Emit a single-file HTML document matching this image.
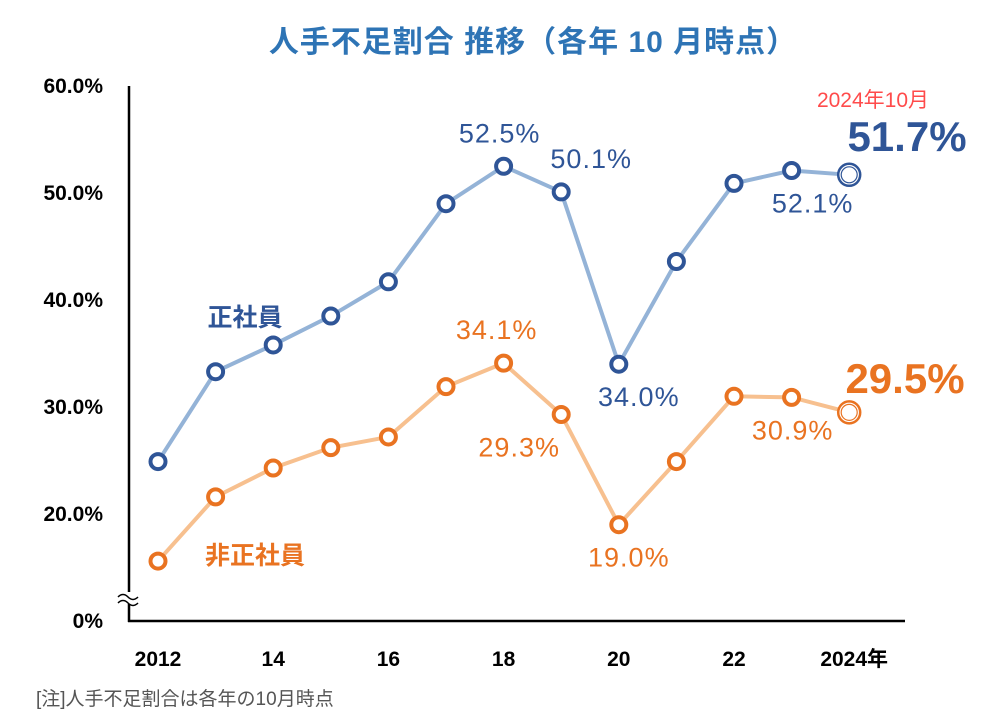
<!DOCTYPE html>
<html><head><meta charset="utf-8"><style>
body{margin:0;background:#fff;}
svg{display:block;font-family:"Liberation Sans","Noto Sans CJK JP",sans-serif;}
</style></head><body>
<svg id="c" width="1005" height="716" viewBox="0 0 1005 716">
<text x="533" y="52" text-anchor="middle" font-size="30" font-weight="bold" fill="#2e74b5" letter-spacing="1">人手不足割合  推移（各年 10 月時点）</text>
<g id="axes">
<line x1="129" y1="86" x2="129" y2="622" stroke="#000" stroke-width="2.5"/>
<line x1="128" y1="621" x2="905" y2="621" stroke="#000" stroke-width="2.5"/>
<rect x="118" y="592" width="22" height="12" fill="#fff"/>
<path d="M118 597 q5 -5 10 0 t10 0 M118 603 q5 -5 10 0 t10 0" stroke="#000" stroke-width="1.5" fill="none"/>
</g>
<g id="yt" font-size="21" font-weight="bold" text-anchor="end"></g>
<g id="xt" font-size="21" font-weight="bold" text-anchor="middle"></g>
<g id="series"></g>
<text x="245" y="326" text-anchor="middle" font-size="25" font-weight="bold" fill="#2f5597">正社員</text>
<text x="255" y="564" text-anchor="middle" font-size="25" font-weight="bold" fill="#e97321">非正社員</text>
<text x="873" y="107" text-anchor="middle" font-size="21" fill="#ff4b4b">2024年10月</text>
<text x="907" y="151" text-anchor="middle" font-size="42" font-weight="bold" fill="#2f5597">51.7%</text>
<text x="905" y="393" text-anchor="middle" font-size="42" font-weight="bold" fill="#e97321">29.5%</text>
<text x="36" y="705" font-size="19" fill="#555">[注]人手不足割合は各年の10月時点</text>
</svg>
<script>
const years=[2012,2013,2014,2015,2016,2017,2018,2019,2020,2021,2022,2023,2024];
const regular=[24.9,33.3,35.8,38.5,41.7,49.0,52.5,50.1,34.0,43.6,50.9,52.1,51.7];
const nonRegular=[15.6,21.6,24.3,26.2,27.2,31.9,34.1,29.3,19.0,24.9,31.0,30.9,29.5];
const yTicks=[20,30,40,50,60];
const yTickLabels=["20.0%","30.0%","40.0%","50.0%","60.0%"];
const xTickYears=[2012,2014,2016,2018,2020,2022,2024];
const xTickLabels=["2012","14","16","18","20","22","2024年"];
const regLabels=[[2018,"52.5%",-1,-4],[2019,"50.1%",-1,30],[2020,"34.0%",1,20],[2023,"52.1%",1,21]];
const nonLabels=[[2018,"34.1%",-1,-7],[2019,"29.3%",1,-42],[2020,"19.0%",1,10],[2023,"30.9%",1,1]];
const NS="http://www.w3.org/2000/svg";
const X=y=>158+(y-2012)*57.6;
const Y=v=>514-(v-20)*10.7;
function mk(t,a,p){const e=document.createElementNS(NS,t);for(const k in a)e.setAttribute(k,a[k]);p.appendChild(e);return e;}
const yt=document.getElementById('yt'),xt=document.getElementById('xt'),sg=document.getElementById('series');
yTicks.forEach((v,i)=>{const t=mk('text',{x:103,y:Y(v)+7},yt);t.textContent=yTickLabels[i];

});
const z=mk('text',{x:103,y:628},yt);z.textContent="0%";


xTickYears.forEach((y,i)=>{const t=mk('text',{x:X(y)+(i==6?5:0),y:666},xt);t.textContent=xTickLabels[i];

});
function series(vals,lineC,dotC,name,labels){
const g=mk('g',{},sg);


const pl=mk('polyline',{points:vals.map((v,i)=>X(years[i])+','+Y(v)).join(' '),fill:'none',stroke:lineC,'stroke-width':4},g);


vals.forEach((v,i)=>{const last=i==vals.length-1;
const c=mk('circle',{cx:X(years[i]),cy:Y(v),r:last?11:7.5,fill:'#fff',stroke:dotC,'stroke-width':last?2.5:4},g);


if(last){const c2=mk('circle',{cx:X(years[i]),cy:Y(v),r:8,fill:'none',stroke:dotC,'stroke-width':1.2},g);

}});
labels.forEach(([yr,txt,d,dx])=>{const v=vals[years.indexOf(yr)];
const t=mk('text',{x:X(yr)+dx,y:Y(v)+(d<0?-24:42),'text-anchor':'middle','font-size':27,fill:dotC,'letter-spacing':1},g);t.textContent=txt;

});}
series(regular,'#94b3d7','#2f5597','regular',regLabels);
series(nonRegular,'#f7c08f','#e97321','non-regular',nonLabels);
</script>
</body></html>
